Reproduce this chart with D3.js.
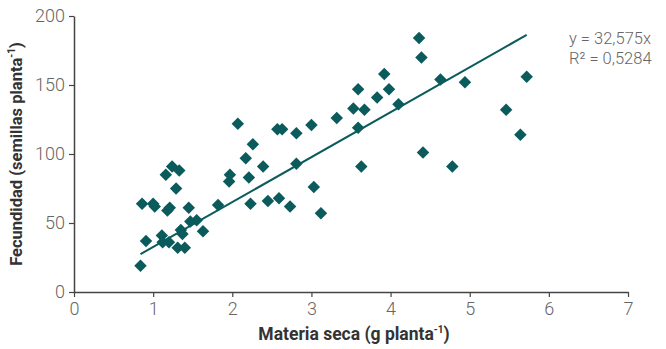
<!DOCTYPE html>
<html>
<head>
<meta charset="utf-8">
<script src="https://cdn.jsdelivr.net/npm/d3@7"></script>
<style>
  body { margin: 0; background: #fff; }
  svg text { font-family: Roboto, "Liberation Sans", sans-serif; }
</style>
</head>
<body>
<svg id="drawing_region"></svg>
<script>
// materia seca (g planta-1)
var xs = [0.84, 0.86, 0.91, 1.0, 1.02, 1.11, 1.12, 1.16, 1.18, 1.21, 1.2, 1.24, 1.29, 1.33, 1.31,
          1.35, 1.37, 1.4, 1.45, 1.47, 1.55, 1.63, 1.82, 1.96, 1.97, 2.07, 2.17, 2.21, 2.23, 2.26,
          2.39, 2.45, 2.57, 2.63, 2.59, 2.73, 2.81, 2.81, 3.0, 3.03, 3.12, 3.32, 3.53, 3.59, 3.59,
          3.67, 3.63, 3.83, 3.92, 3.98, 4.1, 4.36, 4.39, 4.41, 4.63, 4.78, 4.94, 5.46, 5.64, 5.72];
// fecundidad (semillas planta-1)
var ys = [19, 64, 37, 64, 62, 41, 36, 85, 59, 61, 36, 91, 75, 88, 32,
          45, 42, 32, 61, 51, 52, 44, 63, 80, 85, 122, 97, 83, 64, 107,
          91, 66, 118, 118, 68, 62, 115, 93, 121, 76, 57, 126, 133, 147, 119,
          132, 91, 141, 158, 147, 136, 184, 170, 101, 154, 91, 152, 132, 114, 156];
var slope = 32.575;
var xticks = [0, 1, 2, 3, 4, 5, 6, 7];
var yticks = [0, 50, 100, 150, 200];

var data = xs.map((x, i) => ({x: x, y: ys[i]}));

var W = 666, H = 349;
var margin = {top: 16, right: 38, bottom: 57, left: 74};
var iw = W - margin.left - margin.right;
var ih = H - margin.top - margin.bottom;

var svg = d3.select('#drawing_region')
  .attr('width', W)
  .attr('height', H);

var chart = svg.append('g')
  .attr('transform', `translate(${margin.left}, ${margin.top})`);

var xscale = d3.scaleLinear().domain([0, 7]).range([0, iw]);
var yscale = d3.scaleLinear().domain([0, 200]).range([ih, 0]);

var axisColor = '#444';
var tickColor = '#666';

var xaxis_group = chart.append('g')
  .attr('transform', `translate(0, ${ih})`)
  .call(d3.axisBottom(xscale).tickValues(xticks).tickFormat(d3.format('d'))
    .tickSize(5).tickSizeOuter(0).tickPadding(5));

var yaxis_group = chart.append('g')
  .call(d3.axisLeft(yscale).tickValues(yticks).tickFormat(d3.format('d'))
    .tickSize(5).tickSizeOuter(0).tickPadding(4));

[xaxis_group, yaxis_group].forEach(g => {
  g.select('.domain').attr('stroke', axisColor).attr('stroke-width', 1.5);
  g.selectAll('.tick line').attr('stroke', axisColor).attr('stroke-width', 1.2);
  g.selectAll('.tick text')
    .attr('fill', tickColor)
    .style('font-size', '18px')
    .style('font-weight', 300);
});

var teal = '#0b5b5d';

// regression line y = 32,575x
var xmin = d3.min(xs), xmax = d3.max(xs);
chart.append('line')
  .attr('x1', xscale(xmin)).attr('y1', yscale(slope * xmin))
  .attr('x2', xscale(xmax)).attr('y2', yscale(slope * xmax))
  .attr('stroke', teal)
  .attr('stroke-width', 2);

var diamond = d3.symbol().type(d3.symbolSquare).size(78);
chart.selectAll('path.pt')
  .data(data)
  .enter()
  .append('path')
  .attr('class', 'pt')
  .attr('d', diamond)
  .attr('transform', d => `translate(${xscale(d.x)}, ${yscale(d.y)}) rotate(45)`)
  .attr('fill', teal);

// equation
var eq = svg.append('text')
  .attr('fill', tickColor)
  .style('font-size', '16.5px')
  .style('font-weight', 300);
eq.append('tspan').attr('x', 569).attr('y', 44).text('y = 32,575x');
eq.append('tspan').attr('x', 569).attr('y', 64).text('R² = 0,5284');

// axis titles
var xt = svg.append('text')
  .attr('x', margin.left + iw / 2 + 3)
  .attr('y', 340)
  .attr('text-anchor', 'middle')
  .attr('fill', '#333')
  .style('font-size', '17.5px')
  .style('font-weight', 'bold');
xt.append('tspan').text('Materia seca (g planta');
xt.append('tspan').attr('dy', -7).style('font-size', '10px').text('-1');
xt.append('tspan').attr('dy', 7).text(')');

var yt = svg.append('text')
  .attr('transform', `translate(22, ${margin.top + ih / 2}) rotate(-90)`)
  .attr('text-anchor', 'middle')
  .attr('fill', '#333')
  .style('font-size', '16.5px')
  .style('font-weight', 'bold');
yt.append('tspan').text('Fecundidad (semillas planta');
yt.append('tspan').attr('dy', -7).style('font-size', '10px').text('-1');
yt.append('tspan').attr('dy', 7).text(')');
</script>
</body>
</html>
